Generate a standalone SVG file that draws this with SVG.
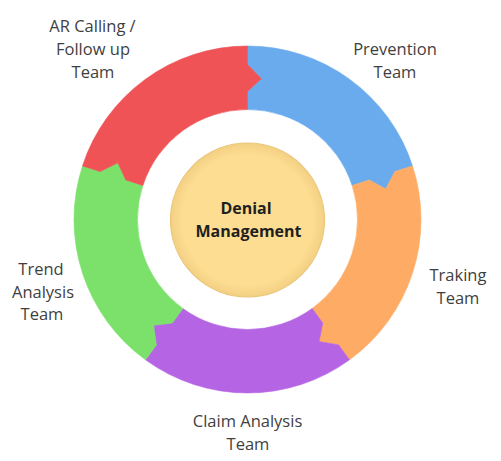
<svg xmlns="http://www.w3.org/2000/svg" width="501" height="461" viewBox="0 0 501 461">
<style>
.seg{stroke-width:0.6;stroke-linejoin:round}
.lbl{font-family:"Open Sans","Liberation Sans",sans-serif;font-size:16.5px;fill:#3f3f3f;text-anchor:middle}
.ctr{font-family:"Open Sans","Liberation Sans",sans-serif;font-size:16px;font-weight:bold;fill:#1f1f1f;text-anchor:middle}
</style>
<defs>
<radialGradient id="cg" cx="0.5" cy="0.5" r="0.5">
<stop offset="0.85" stop-color="#FCDD92"/>
<stop offset="1" stop-color="#F3D083"/>
</radialGradient>
</defs>
<rect width="501" height="461" fill="#ffffff"/>
<g id="connectors"></g>
<g id="prevention">
<path class="seg" fill="#6AABEE" stroke="#6AABEE" d="M 247.5 46 A 173.5 173.5 0 0 1 412.51 165.89 L 394.91 171.6 L 385.7 189.11 L 369.24 179.95 L 352.12 185.51 A 110 110 0 0 0 247.5 109.5 L 247.5 91.5 L 261.31 78.67 L 247.5 64.5 Z"/>
<text class="lbl" x="395" y="55">Prevention</text>
<text class="lbl" x="395" y="78">Team</text>
</g>
<g id="traking">
<path class="seg" fill="#FEAB65" stroke="#FEAB65" d="M 412.51 165.89 A 173.5 173.5 0 0 1 349.48 359.86 L 338.61 344.9 L 319.11 341.55 L 322.74 323.05 L 312.16 308.49 A 110 110 0 0 0 352.12 185.51 L 369.24 179.95 L 385.7 189.11 L 394.91 171.6 Z"/>
<text class="lbl" x="458" y="280.5">Traking</text>
<text class="lbl" x="458" y="303.5">Team</text>
</g>
<g id="claim">
<path class="seg" fill="#B565E3" stroke="#B565E3" d="M 349.48 359.86 A 173.5 173.5 0 0 1 145.52 359.86 L 156.39 344.9 L 153.55 325.32 L 172.26 323.05 L 182.84 308.49 A 110 110 0 0 0 312.16 308.49 L 322.74 323.05 L 319.11 341.55 L 338.61 344.9 Z"/>
<text class="lbl" x="247.5" y="426.5">Claim Analysis</text>
<text class="lbl" x="248" y="450">Team</text>
</g>
<g id="trend">
<path class="seg" fill="#7BE16B" stroke="#7BE16B" d="M 145.52 359.86 A 173.5 173.5 0 0 1 82.49 165.89 L 100.09 171.6 L 117.83 162.85 L 125.76 179.95 L 142.88 185.51 A 110 110 0 0 0 182.84 308.49 L 172.26 323.05 L 153.55 325.32 L 156.39 344.9 Z"/>
<text class="lbl" x="41" y="275">Trend</text>
<text class="lbl" x="43" y="297.5">Analysis</text>
<text class="lbl" x="42" y="320">Team</text>
</g>
<g id="ar">
<path class="seg" fill="#EF5356" stroke="#EF5356" d="M 82.49 165.89 A 173.5 173.5 0 0 1 247.5 46 L 247.5 64.5 L 261.31 78.67 L 247.5 91.5 L 247.5 109.5 A 110 110 0 0 0 142.88 185.51 L 125.76 179.95 L 117.83 162.85 L 100.09 171.6 Z"/>
<text class="lbl" x="92.5" y="32">AR Calling /</text>
<text class="lbl" x="93" y="55">Follow up</text>
<text class="lbl" x="93" y="78">Team</text>
</g>
<g id="center">
<circle cx="247.5" cy="220" r="77" fill="url(#cg)" stroke="#EAC679" stroke-width="1.2"/>
<text class="ctr" x="246" y="213.5">Denial</text>
<text class="ctr" x="248.5" y="236.5">Management</text>
</g>
</svg>
